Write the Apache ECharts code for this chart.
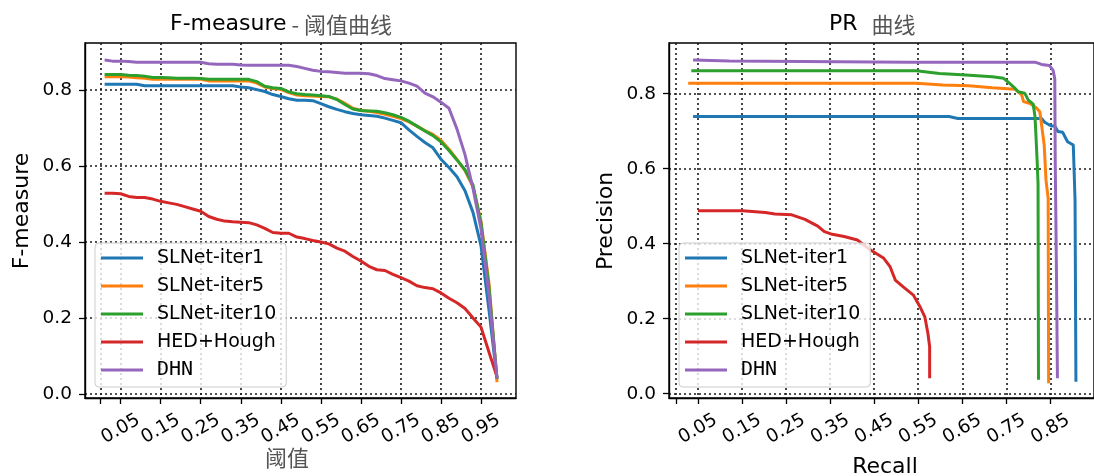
<!DOCTYPE html>
<html>
<head>
<meta charset="utf-8">
<script src="https://cdn.jsdelivr.net/npm/echarts@6/dist/echarts.min.js"></script>
<style>html,body{margin:0;padding:0;background:#fff;}#c{width:1094px;height:476px;}</style>
</head>
<body>
<div id="c"></div>
<script>
// ---------- data ----------
const seriesNames = ['SLNet-iter1', 'SLNet-iter5', 'SLNet-iter10', 'HED+Hough', 'DHN'];
const seriesColors = ['#1f77b4', '#ff7f0e', '#2ca02c', '#d62728', '#9467bd'];

const thresholds = [0.01,0.03,0.05,0.07,0.09,0.11,0.13,0.15,0.17,0.19,0.21,0.23,0.25,0.27,0.29,0.31,0.33,0.35,0.37,0.39,0.41,0.43,0.45,0.47,0.49,0.51,0.53,0.55,0.57,0.59,0.61,0.63,0.65,0.67,0.69,0.71,0.73,0.75,0.77,0.79,0.81,0.83,0.85,0.87,0.89,0.91,0.93,0.95,0.97,0.99];
const fIter1 = [.815,.815,.815,.815,.815,.811,.811,.811,.811,.811,.811,.811,.811,.811,.811,.811,.811,.808,.806,.801,.796,.788,.783,.777,.773,.773,.772,.764,.756,.749,.743,.738,.735,.733,.731,.726,.720,.714,.695,.678,.662,.648,.618,.596,.572,.535,.478,.390,.220,.040];
const fIter5 = [.835,.835,.835,.834,.832,.831,.828,.828,.828,.828,.828,.828,.828,.824,.824,.824,.824,.824,.824,.818,.808,.804,.802,.793,.787,.785,.784,.783,.782,.776,.765,.752,.746,.744,.741,.736,.731,.725,.716,.705,.693,.683,.668,.644,.617,.588,.545,.455,.290,.031];
const fIter10 = [.841,.841,.841,.839,.838,.836,.833,.833,.832,.831,.831,.831,.830,.828,.828,.828,.828,.828,.828,.822,.810,.806,.804,.795,.790,.788,.787,.785,.783,.775,.762,.750,.746,.745,.744,.740,.735,.728,.718,.705,.692,.680,.664,.641,.616,.590,.550,.450,.280,.040];
const fHed = [.528,.528,.527,.520,.517,.517,.513,.507,.503,.499,.493,.487,.481,.467,.460,.455,.453,.452,.451,.445,.436,.425,.423,.423,.413,.409,.404,.400,.395,.384,.376,.362,.350,.336,.327,.325,.315,.306,.297,.285,.280,.277,.266,.252,.240,.225,.200,.176,.110,.045];
const fDhn = [.879,.876,.876,.875,.873,.873,.873,.873,.873,.873,.873,.873,.873,.869,.868,.868,.868,.866,.865,.865,.865,.865,.865,.865,.862,.857,.852,.849,.848,.846,.844,.844,.844,.843,.838,.830,.827,.824,.818,.810,.792,.782,.768,.752,.697,.630,.541,.435,.260,.041];

const recIter1 = [0.039,0.620,0.640,0.830,0.837,0.852,0.860,0.867,0.878,0.889,0.902,0.904,0.906,0.908];
const preIter1 = [0.739,0.739,0.734,0.734,0.724,0.714,0.714,0.699,0.697,0.672,0.663,0.659,0.516,0.032];
const recIter5 = [0.028,0.546,0.606,0.665,0.718,0.770,0.785,0.789,0.804,0.819,0.826,0.830,0.836,0.840,0.845,0.846];
const preIter5 = [0.828,0.828,0.823,0.821,0.816,0.812,0.797,0.779,0.774,0.761,0.752,0.717,0.663,0.570,0.520,0.028];
const recIter10 = [0.035,0.546,0.598,0.658,0.718,0.744,0.755,0.770,0.777,0.792,0.800,0.811,0.815,0.817,0.820,0.822,0.823];
const preIter10 = [0.861,0.861,0.854,0.850,0.845,0.841,0.830,0.814,0.805,0.801,0.783,0.772,0.740,0.694,0.620,0.560,0.037];
const recHed = [0.050,0.151,0.203,0.225,0.263,0.293,0.322,0.337,0.352,0.382,0.412,0.442,0.472,0.486,0.498,0.516,0.539,0.554,0.565,0.572,0.576,0.576];
const preHed = [0.488,0.488,0.483,0.479,0.477,0.465,0.447,0.432,0.426,0.419,0.410,0.383,0.361,0.339,0.303,0.285,0.263,0.232,0.205,0.161,0.125,0.041];
const recDhn = [0.039,0.121,0.531,0.815,0.830,0.848,0.856,0.860,0.861,0.864,0.866];
const preDhn = [0.890,0.887,0.884,0.884,0.878,0.875,0.863,0.840,0.620,0.300,0.041];

const leftXTicks = [0, 0.05, 0.15, 0.25, 0.35, 0.45, 0.55, 0.65, 0.75, 0.85, 0.95];
const leftXLabels = [0.05, 0.15, 0.25, 0.35, 0.45, 0.55, 0.65, 0.75, 0.85, 0.95];
const rightXTicks = [0, 0.05, 0.15, 0.25, 0.35, 0.45, 0.55, 0.65, 0.75, 0.85, 0.95];
const rightXLabels = [0.05, 0.15, 0.25, 0.35, 0.45, 0.55, 0.65, 0.75, 0.85];
const yTicks = [0, 0.2, 0.4, 0.6, 0.8];

// ---------- build ----------
const fSets = [fIter1, fIter5, fIter10, fHed, fDhn];
const prSets = [[recIter1, preIter1], [recIter5, preIter5], [recIter10, preIter10], [recHed, preHed], [recDhn, preDhn]];

const FONT = 'DejaVu Sans';
const CJK = 'Noto Sans CJK SC';
const gridLine = { show: true, lineStyle: { type: [2, 3], color: '#1a1a1a', width: 1.6 } };
const tickStyle = { show: true, inside: false, length: 6, lineStyle: { color: '#000', width: 1.3 } };

function xAxis(gi, min, max, ticks, labels) {
  return {
    type: 'value', gridIndex: gi, min: min, max: max,
    axisLine: { show: true, onZero: false, lineStyle: { color: '#000', width: 1.4 } },
    axisTick: Object.assign({ customValues: ticks }, tickStyle),
    axisLabel: { customValues: labels, formatter: v => v.toFixed(2), rotate: 30, align: 'center', verticalAlign: 'middle',
      margin: 31, fontSize: 18.5, fontFamily: FONT, color: '#000' },
    splitLine: gridLine
  };
}
function yAxis(gi, min, max) {
  return {
    type: 'value', gridIndex: gi, min: min, max: max,
    axisLine: { show: true, onZero: false, lineStyle: { color: '#000', width: 1.4 } },
    axisTick: Object.assign({ customValues: yTicks }, tickStyle),
    axisLabel: { customValues: yTicks, formatter: v => v.toFixed(1), margin: 13, fontSize: 18.5, fontFamily: FONT, color: '#000' },
    splitLine: gridLine
  };
}
function legend(left) {
  return {
    orient: 'vertical', left: left, top: 243,
    data: seriesNames, icon: 'rect', itemWidth: 42, itemHeight: 3, itemGap: 8,
    backgroundColor: 'rgba(255,255,255,0.8)', borderColor: '#cccccc', borderWidth: 1, borderRadius: 4,
    padding: [5, 10, 7, 6], selectedMode: false,
    formatter: n => n === 'DHN' ? '{m|DHN}' : n,
    textStyle: { fontSize: 19, fontFamily: FONT, color: '#000', lineHeight: 20, padding: [0, 0, 0, 9],
      rich: { m: { fontFamily: 'DejaVu Sans Mono', fontSize: 20, lineHeight: 20, color: '#000' } } }
  };
}

const series = [];
seriesNames.forEach((name, i) => {
  series.push({
    name: name, type: 'line', xAxisIndex: 0, yAxisIndex: 0, showSymbol: false, symbol: 'none',
    color: seriesColors[i], lineStyle: { width: 3, color: seriesColors[i] },
    emphasis: { disabled: true }, silent: true,
    data: thresholds.map((t, k) => [t, fSets[i][k]])
  });
});
seriesNames.forEach((name, i) => {
  const rec = prSets[i][0], pre = prSets[i][1];
  series.push({
    name: name, type: 'line', xAxisIndex: 1, yAxisIndex: 1, showSymbol: false, symbol: 'none',
    color: seriesColors[i], lineStyle: { width: 3, color: seriesColors[i] },
    emphasis: { disabled: true }, silent: true,
    data: rec.map((r, k) => [r, pre[k]])
  });
});

const chart = echarts.init(document.getElementById('c'), null, { renderer: 'canvas' });
chart.setOption({
  animation: false,
  backgroundColor: '#fff',
  grid: [
    { left: 85, top: 43, width: 431, height: 355, show: true, borderColor: '#000', borderWidth: 1.4, backgroundColor: 'transparent' },
    { left: 669, top: 43, width: 431, height: 355, show: true, borderColor: '#000', borderWidth: 1.4, backgroundColor: 'transparent' }
  ],
  xAxis: [
    xAxis(0, -0.039, 1.0374, leftXTicks, leftXLabels),
    xAxis(1, -0.0156, 0.949, rightXTicks, rightXLabels)
  ],
  yAxis: [
    yAxis(0, -0.0105, 0.9237),
    yAxis(1, -0.0115, 0.9352)
  ],
  legend: [legend(95), legend(679)],
  series: series,
  graphic: [
    { type: 'text', x: 170, y: 24.5, silent: true, style: { text: '{a|F-measure}{b| - 阈值曲线}', align: 'left', verticalAlign: 'middle',
      rich: { a: { fontFamily: FONT, fontSize: 22, fill: '#000' }, b: { fontFamily: CJK, fontSize: 22, fill: '#555' } } } },
    { type: 'text', x: 829, y: 24.5, silent: true, style: { text: '{a|PR  }{b|曲线}', align: 'left', verticalAlign: 'middle',
      rich: { a: { fontFamily: FONT, fontSize: 22, fill: '#000' }, b: { fontFamily: CJK, fontSize: 22, fill: '#555' } } } },
    { type: 'text', x: 287, y: 457.5, silent: true, style: { text: '阈值', align: 'center', verticalAlign: 'middle', font: '22px "Noto Sans CJK SC"', fill: '#555' } },
    { type: 'text', x: 885, y: 467, silent: true, style: { text: 'Recall', align: 'center', verticalAlign: 'middle', font: '22px "DejaVu Sans"', fill: '#000' } },
    { type: 'text', x: 22.5, y: 211, rotation: Math.PI / 2, silent: true, style: { text: 'F-measure', align: 'center', verticalAlign: 'middle', font: '22px "DejaVu Sans"', fill: '#000' } },
    { type: 'text', x: 606, y: 221, rotation: Math.PI / 2, silent: true, style: { text: 'Precision', align: 'center', verticalAlign: 'middle', font: '22px "DejaVu Sans"', fill: '#000' } }
  ]
});
</script>
</body>
</html>
